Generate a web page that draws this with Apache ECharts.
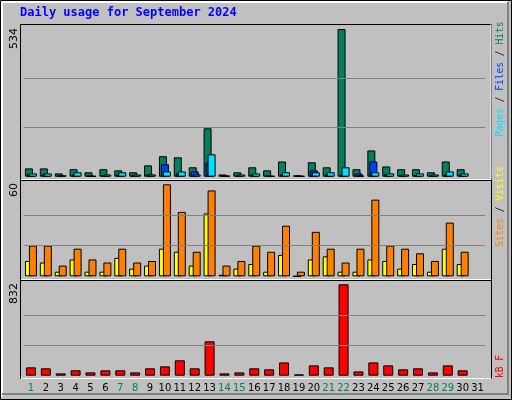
<!DOCTYPE html>
<html><head><meta charset="utf-8">
<script src="https://cdn.jsdelivr.net/npm/echarts@6/dist/echarts.min.js"></script>
<style>html,body{margin:0;padding:0;background:#c0c0c0}#c{width:512px;height:400px}</style>
</head><body><div id="c"></div>
<script>
const days = ['1','2','3','4','5','6','7','8','9','10','11','12','13','14','15','16','17','18','19','20','21','22','23','24','25','26','27','28','29','30','31'];
const weekend = ['1','7','8','14','15','21','22','28','29'];
const hits  = [30,30,12,27,16,27,23,16,41,74,70,34,175,8,16,34,23,55,5,52,34,534,27,95,37,27,27,16,55,27,null];
const files = [10,10,4,8,3,6,8,6,8,45,12,19,52,4,6,8,3,8,3,23,8,8,12,55,10,6,6,4,8,8,null];
const pages = [12,12,5,16,3,8,16,8,8,19,19,8,81,4,8,12,3,16,3,16,16,34,4,16,12,8,12,8,19,12,null];
const sites = [10,9,3,11,3,3,12,5,7,18,16,7,41,1,5,8,3,14,0,11,13,3,3,11,10,5,8,3,18,8,null];
const visits= [20,20,7,18,11,9,18,9,10,60,42,16,56,7,10,20,16,33,3,29,18,9,18,50,20,18,15,10,35,16,null];
const kbytes= [76,67,21,49,30,49,49,30,67,85,140,67,313,21,30,67,58,121,12,94,76,832,39,121,94,58,67,30,94,49,null];
const maxes = [534,60,832];
const title = 'Daily usage for September 2024';

const chart = echarts.init(document.getElementById('c'));
const L = 23.5, R = 512-485;
const grids = [{top:29,bottom:400-176.7},{top:184.3,bottom:400-276.3},{top:284.3,bottom:400-375.7}];
const gl = (m)=>({silent:true,symbol:'none',label:{show:false},lineStyle:{color:'#808080',type:'solid',width:1},data:[{yAxis:m/3},{yAxis:2*m/3}]});
const bs = (c)=>({color:c,borderColor:'#000',borderWidth:1});
const F = '9.6px "DejaVu Sans Mono"';
chart.setOption({
  backgroundColor:'#c0c0c0',
  animation:false,
  grid: grids.map(g=>({left:L,right:R,top:g.top,bottom:g.bottom})),
  xAxis:[0,1,2].map(i=>({type:'category',data:days,gridIndex:i,axisLine:{show:false},axisTick:{show:false},
    axisLabel:{show:i===2,interval:0,margin:8,fontFamily:'DejaVu Sans',fontSize:10,color:(v)=>weekend.includes(v)?'#008060':'#000'}})),
  yAxis:[0,1,2].map(i=>({type:'value',gridIndex:i,min:0,max:maxes[i],axisLine:{show:false},axisTick:{show:false},axisLabel:{show:false},splitLine:{show:false}})),
  series:[
    {type:'bar',xAxisIndex:0,yAxisIndex:0,data:hits,barWidth:8,barGap:'-75%',itemStyle:bs('#00805c'),markLine:gl(maxes[0]),z:2},
    {type:'bar',xAxisIndex:0,yAxisIndex:0,data:files,barWidth:8,barGap:'-75%',itemStyle:bs('#0040ff'),z:3},
    {type:'bar',xAxisIndex:0,yAxisIndex:0,data:pages,barWidth:8,barGap:'-75%',itemStyle:bs('#00e0ff'),z:4},
    {type:'bar',xAxisIndex:1,yAxisIndex:1,data:sites,barWidth:8,barGap:'-50%',itemStyle:bs('#ffff00'),markLine:gl(maxes[1]),z:2},
    {type:'bar',xAxisIndex:1,yAxisIndex:1,data:visits,barWidth:8,barGap:'-50%',itemStyle:bs('#ff8000'),z:3},
    {type:'bar',xAxisIndex:2,yAxisIndex:2,data:kbytes,barWidth:10,itemStyle:bs('#ff0000'),markLine:gl(maxes[2]),z:2}
  ],
  graphic:[
    {type:'rect',shape:{x:0.5,y:0.5,width:511,height:399},style:{fill:'none',stroke:'#000',lineWidth:1},z:-10,silent:true},
    {type:'polyline',shape:{points:[[2,397],[2,2],[508,2]]},style:{fill:'none',stroke:'#fff',lineWidth:2},z:-10,silent:true},
    {type:'polyline',shape:{points:[[508,2],[508,394],[2,394]]},style:{fill:'none',stroke:'#808080',lineWidth:2},z:-10,silent:true},
    {type:'rect',shape:{x:20.5,y:24.5,width:471,height:354},style:{fill:'none',stroke:'#000',lineWidth:1},z:-5,silent:true},
    {type:'polyline',shape:{points:[[21,179.5],[491,179.5],[491,24.5]]},style:{fill:'none',stroke:'#fff',lineWidth:1},z:-4,silent:true},
    {type:'line',shape:{x1:21,y1:180.5,x2:491,y2:180.5},style:{stroke:'#000',lineWidth:1},z:-4,silent:true},
    {type:'line',shape:{x1:21,y1:279.5,x2:491,y2:279.5},style:{stroke:'#fff',lineWidth:1},z:-4,silent:true},
    {type:'line',shape:{x1:21,y1:280.5,x2:491,y2:280.5},style:{stroke:'#000',lineWidth:1},z:-4,silent:true},
    {type:'line',shape:{x1:21,y1:378.5,x2:491,y2:378.5},style:{stroke:'#fff',lineWidth:1},z:-4,silent:true},
    {type:'text',left:20,top:7,style:{text:title,fill:'#0000ff',font:'bold 12px "DejaVu Sans Mono"'}},
    {type:'text',x:9,y:28,rotation:Math.PI/2,style:{text:String(maxes[0]),fill:'#000',font:'11px "DejaVu Sans"',align:'right',verticalAlign:'top'}},
    {type:'text',x:9,y:183,rotation:Math.PI/2,style:{text:String(maxes[1]),fill:'#000',font:'11px "DejaVu Sans"',align:'right',verticalAlign:'top'}},
    {type:'text',x:9,y:283,rotation:Math.PI/2,style:{text:String(maxes[2]),fill:'#000',font:'11px "DejaVu Sans"',align:'right',verticalAlign:'top'}},
    {type:'text',x:495,y:137,rotation:Math.PI/2,style:{text:'{p|Pages} {s|/} {f|Files} {s|/} {h|Hits}',align:'left',verticalAlign:'top',
      font:F,rich:{p:{fill:'#00e0ff',font:F},f:{fill:'#0040ff',font:F},h:{fill:'#00805c',font:F},s:{fill:'#000',font:F}}}},
    {type:'text',x:495,y:247,rotation:Math.PI/2,style:{text:'{a|Sites} {s|/} {b|Visits}',align:'left',verticalAlign:'top',
      font:F,rich:{a:{fill:'#ff8000',font:F},b:{fill:'#ffff00',font:F},s:{fill:'#000',font:F}}}},
    {type:'text',x:495,y:378,rotation:Math.PI/2,style:{text:'kB F',fill:'#ff0000',font:F,align:'left',verticalAlign:'top'}}
  ]
});
</script></body></html>
